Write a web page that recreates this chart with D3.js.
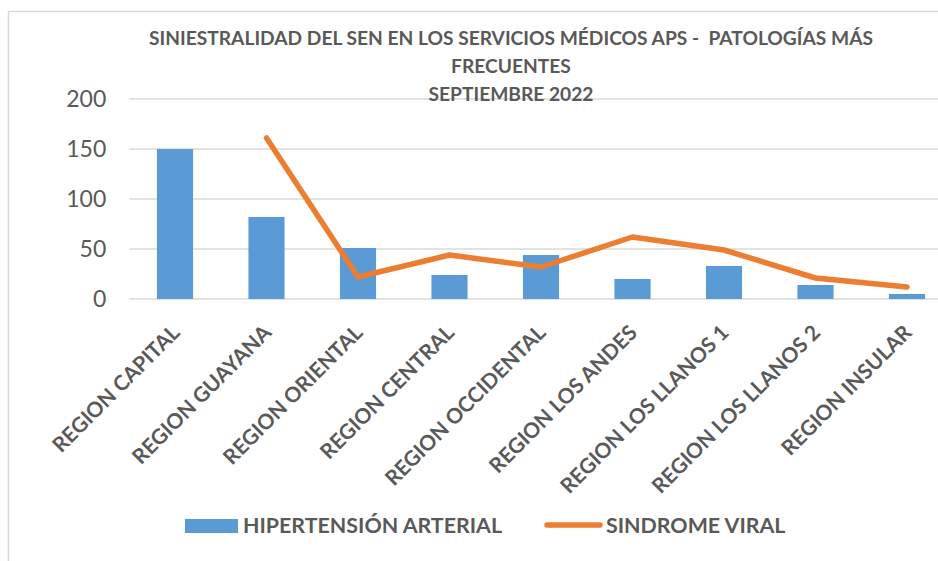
<!DOCTYPE html>
<html>
<head>
<meta charset="utf-8">
<script src="https://cdn.jsdelivr.net/npm/d3@7"></script>
<style>
  body { margin: 0; background: #fff; }
  svg { display: block; font-family: Lato, "Open Sans", sans-serif; }
</style>
</head>
<body>
<div id="chart"></div>
<script>
    var categories = ['REGION CAPITAL', 'REGION GUAYANA', 'REGION ORIENTAL', 'REGION CENTRAL',
        'REGION OCCIDENTAL', 'REGION LOS ANDES', 'REGION LOS LLANOS 1', 'REGION LOS LLANOS 2', 'REGION INSULAR'];
    var hipertension = [150, 82, 51, 24, 44, 20, 33, 14, 5];
    var sindromeViral = [null, 161, 22, 44, 32, 62, 49, 21, 12];
    var yTicks = [0, 50, 100, 150, 200];
    var titleLines = ['SINIESTRALIDAD DEL SEN EN LOS SERVICIOS MÉDICOS APS -  PATOLOGÍAS MÁS', 'FRECUENTES', 'SEPTIEMBRE 2022'];
    var seriesNames = ['HIPERTENSIÓN ARTERIAL', 'SINDROME VIRAL'];

    var width = 938;
    var height = 561;
    var textColor = '#595959';
    var barColor = '#5B9BD5';
    var lineColor = '#ED7D31';
    var gridColor = '#d9d9d9';

    var plot = {left: 129.25, right: 952.75, top: 99, bottom: 299};

    var svg = d3.select('#chart').append('svg')
        .attr('width', width)
        .attr('height', height);

    /**
     * chart area border (runs off the right and bottom edge)
     */
    svg.append('rect')
        .attr('x', 8.5).attr('y', 11.5)
        .attr('width', 1000).attr('height', 600)
        .attr('fill', 'none')
        .attr('stroke', gridColor)
        .attr('stroke-width', 1.5);

    /**
     * scales
     */
    var x = d3.scaleBand().domain(categories).range([plot.left, plot.right]).padding(0);
    var y = d3.scaleLinear().domain([0, 200]).range([plot.bottom, plot.top]);
    var barWidth = x.bandwidth() * 0.395;

    /**
     * gridlines
     */
    svg.append('g')
        .selectAll('line')
        .data(yTicks)
        .enter().append('line')
        .attr('x1', plot.left).attr('x2', plot.right)
        .attr('y1', function (d) { return y(d); })
        .attr('y2', function (d) { return y(d); })
        .attr('stroke', gridColor)
        .attr('stroke-width', 1.5);

    /**
     * y axis labels
     */
    var yAxis = svg.append('g')
        .attr('transform', 'translate(' + (plot.left - 23) + ',0)')
        .call(d3.axisLeft(y).tickValues(yTicks).tickSize(0).tickPadding(0));
    yAxis.select('.domain').remove();
    yAxis.selectAll('text')
        .attr('fill', textColor)
        .style('font-size', '23px')
        .style('font-family', 'Lato, sans-serif');

    /**
     * title
     */
    svg.append('g')
        .selectAll('text')
        .data(titleLines)
        .enter().append('text')
        .attr('x', 511)
        .attr('y', function (d, i) { return 45 + i * 28; })
        .attr('text-anchor', 'middle')
        .attr('fill', textColor)
        .style('font-size', '19.2px')
        .style('font-weight', 'bold')
        .style('white-space', 'pre')
        .text(function (d) { return d; });

    /**
     * bars
     */
    svg.append('g')
        .selectAll('rect')
        .data(hipertension)
        .enter().append('rect')
        .attr('x', function (d, i) { return x(categories[i]) + x.bandwidth() / 2 - barWidth / 2; })
        .attr('width', barWidth)
        .attr('y', function (d) { return y(d); })
        .attr('height', function (d) { return y(0) - y(d); })
        .attr('fill', barColor);

    /**
     * line
     */
    var line = d3.line()
        .defined(function (d) { return d !== null; })
        .x(function (d, i) { return x(categories[i]) + x.bandwidth() / 2; })
        .y(function (d) { return y(d); });

    svg.append('path')
        .datum(sindromeViral)
        .attr('d', line)
        .attr('fill', 'none')
        .attr('stroke', lineColor)
        .attr('stroke-width', 5.5)
        .attr('stroke-linecap', 'round')
        .attr('stroke-linejoin', 'round');

    /**
     * x axis labels
     */
    svg.append('g')
        .selectAll('text')
        .data(categories)
        .enter().append('text')
        .attr('transform', function (d) {
            return 'translate(' + (x(d) + x.bandwidth() / 2 + 6) + ',334) rotate(-45)';
        })
        .attr('text-anchor', 'end')
        .attr('fill', textColor)
        .style('font-size', '21px')
        .style('font-weight', 'bold')
        .text(function (d) { return d; });

    /**
     * legend
     */
    var legend = svg.append('g');
    legend.append('rect')
        .attr('x', 185).attr('y', 519)
        .attr('width', 53).attr('height', 14)
        .attr('fill', barColor);
    legend.append('text')
        .attr('x', 243).attr('y', 533)
        .attr('fill', textColor)
        .style('font-size', '21.4px')
        .style('font-weight', 'bold')
        .text(seriesNames[0]);
    legend.append('line')
        .attr('x1', 547).attr('x2', 600)
        .attr('y1', 525).attr('y2', 525)
        .attr('stroke', lineColor)
        .attr('stroke-width', 5.5)
        .attr('stroke-linecap', 'round');
    legend.append('text')
        .attr('x', 606).attr('y', 533)
        .attr('fill', textColor)
        .style('font-size', '21.4px')
        .style('font-weight', 'bold')
        .text(seriesNames[1]);
</script>
</body>
</html>
